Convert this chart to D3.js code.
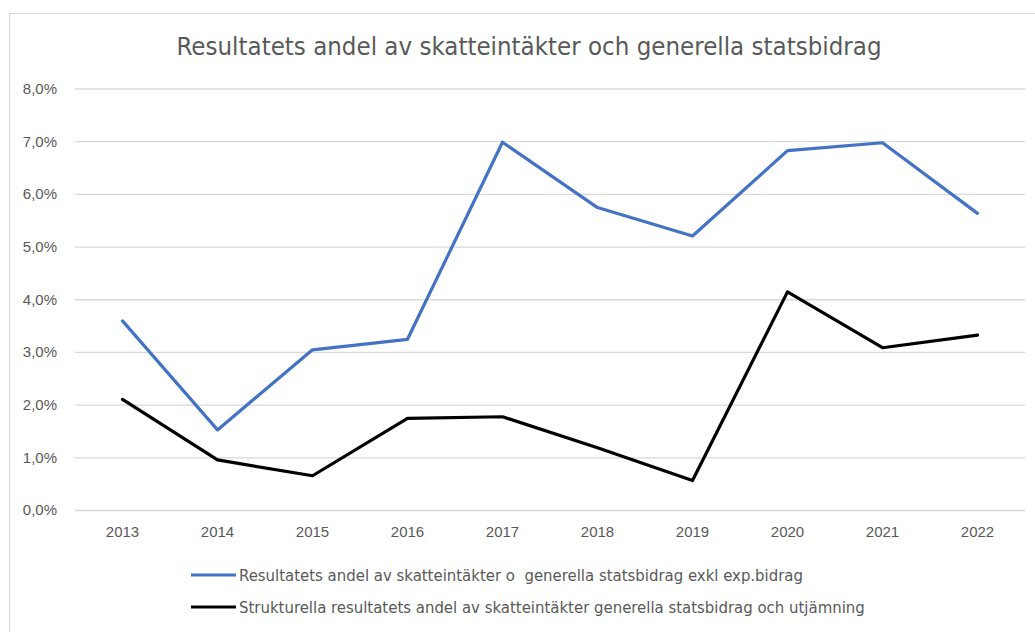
<!DOCTYPE html>
<html>
<head>
<meta charset="utf-8">
<script src="https://cdn.jsdelivr.net/npm/d3@7"></script>
<style>
  body { margin: 0; background: #fff; }
  svg { display: block; font-family: "Liberation Sans Narrow", "DejaVu Sans Condensed", sans-serif; }
</style>
</head>
<body>
<div id="chart"></div>
<script>
var width = 1035;
var height = 632;

var years = ["2013", "2014", "2015", "2016", "2017", "2018", "2019", "2020", "2021", "2022"];
var resultatValues = [3.59, 1.52, 3.04, 3.24, 6.98, 5.74, 5.20, 6.82, 6.97, 5.63];
var strukturValues = [2.10, 0.95, 0.65, 1.74, 1.77, 1.18, 0.56, 4.14, 3.08, 3.32];
var yTicks = [0, 1, 2, 3, 4, 5, 6, 7, 8];
var titleText = "Resultatets andel av skatteintäkter och generella statsbidrag";
var seriesNames = [
  "Resultatets andel av skatteintäkter o  generella statsbidrag exkl exp.bidrag",
  "Strukturella resultatets andel av skatteintäkter generella statsbidrag och utjämning"
];
var seriesColors = ["#4472c4", "#000000"];

var sv = d3.formatLocale({ decimal: ",", thousands: " ", grouping: [3], currency: ["", " kr"] });
var pct = sv.format(".1%");

var margin = { left: 75, right: 10, top: 88.5, bottom: 122 };

var svg = d3.select("#chart")
  .append("svg")
  .attr("width", width)
  .attr("height", height);

// chart frame
svg.append("rect")
  .attr("x", 9.5)
  .attr("y", 13.5)
  .attr("width", 1200)
  .attr("height", 800)
  .attr("fill", "#fff")
  .attr("stroke", "#d9d9d9");

var x = d3.scaleBand()
  .domain(years)
  .range([margin.left, width - margin.right])
  .padding(0);

var y = d3.scaleLinear()
  .domain([0, 8])
  .range([height - margin.bottom, margin.top]);

// gridlines + y labels
var yAxis = d3.axisLeft(y)
  .tickValues(yTicks)
  .tickSize(-(width - margin.left - margin.right))
  .tickPadding(18)
  .tickFormat((d) => pct(d / 100));

var yg = svg.append("g")
  .attr("transform", `translate(${margin.left},0)`)
  .call(yAxis);
yg.select(".domain").remove();
yg.selectAll(".tick line").attr("stroke", "#d9d9d9").attr("stroke-width", 1.3);
yg.selectAll(".tick text")
  .attr("fill", "#595959")
  .style("font-size", "15px");

// x labels
var xAxis = d3.axisBottom(x).tickSize(0).tickPadding(16);
var xg = svg.append("g")
  .attr("transform", `translate(0,${y(0)})`)
  .call(xAxis);
xg.select(".domain").remove();
xg.selectAll(".tick text")
  .attr("fill", "#595959")
  .style("font-size", "15px");

// lines
var line = d3.line()
  .x((d, i) => x(years[i]) + x.bandwidth() / 2)
  .y((d) => y(d));

[resultatValues, strukturValues].forEach((vals, i) => {
  svg.append("path")
    .datum(vals)
    .attr("fill", "none")
    .attr("stroke", seriesColors[i])
    .attr("stroke-width", 3.2)
    .attr("stroke-linejoin", "round")
    .attr("stroke-linecap", "round")
    .attr("d", line);
});

// title
svg.append("text")
  .attr("x", 529)
  .attr("y", 55)
  .attr("text-anchor", "middle")
  .attr("fill", "#595959")
  .style("font-size", "25.6px")
  .text(titleText);

// legend
var legend = svg.append("g");
seriesNames.forEach((name, i) => {
  var ly = 575 + i * 32;
  legend.append("line")
    .attr("x1", 191)
    .attr("x2", 236)
    .attr("y1", ly)
    .attr("y2", ly)
    .attr("stroke", seriesColors[i])
    .attr("stroke-width", 3.2);
  legend.append("text")
    .attr("x", 239)
    .attr("y", ly)
    .attr("dy", "0.35em")
    .attr("fill", "#595959")
    .style("font-size", "16.6px")
    .style("white-space", "pre")
    .text(name);
});
</script>
</body>
</html>
